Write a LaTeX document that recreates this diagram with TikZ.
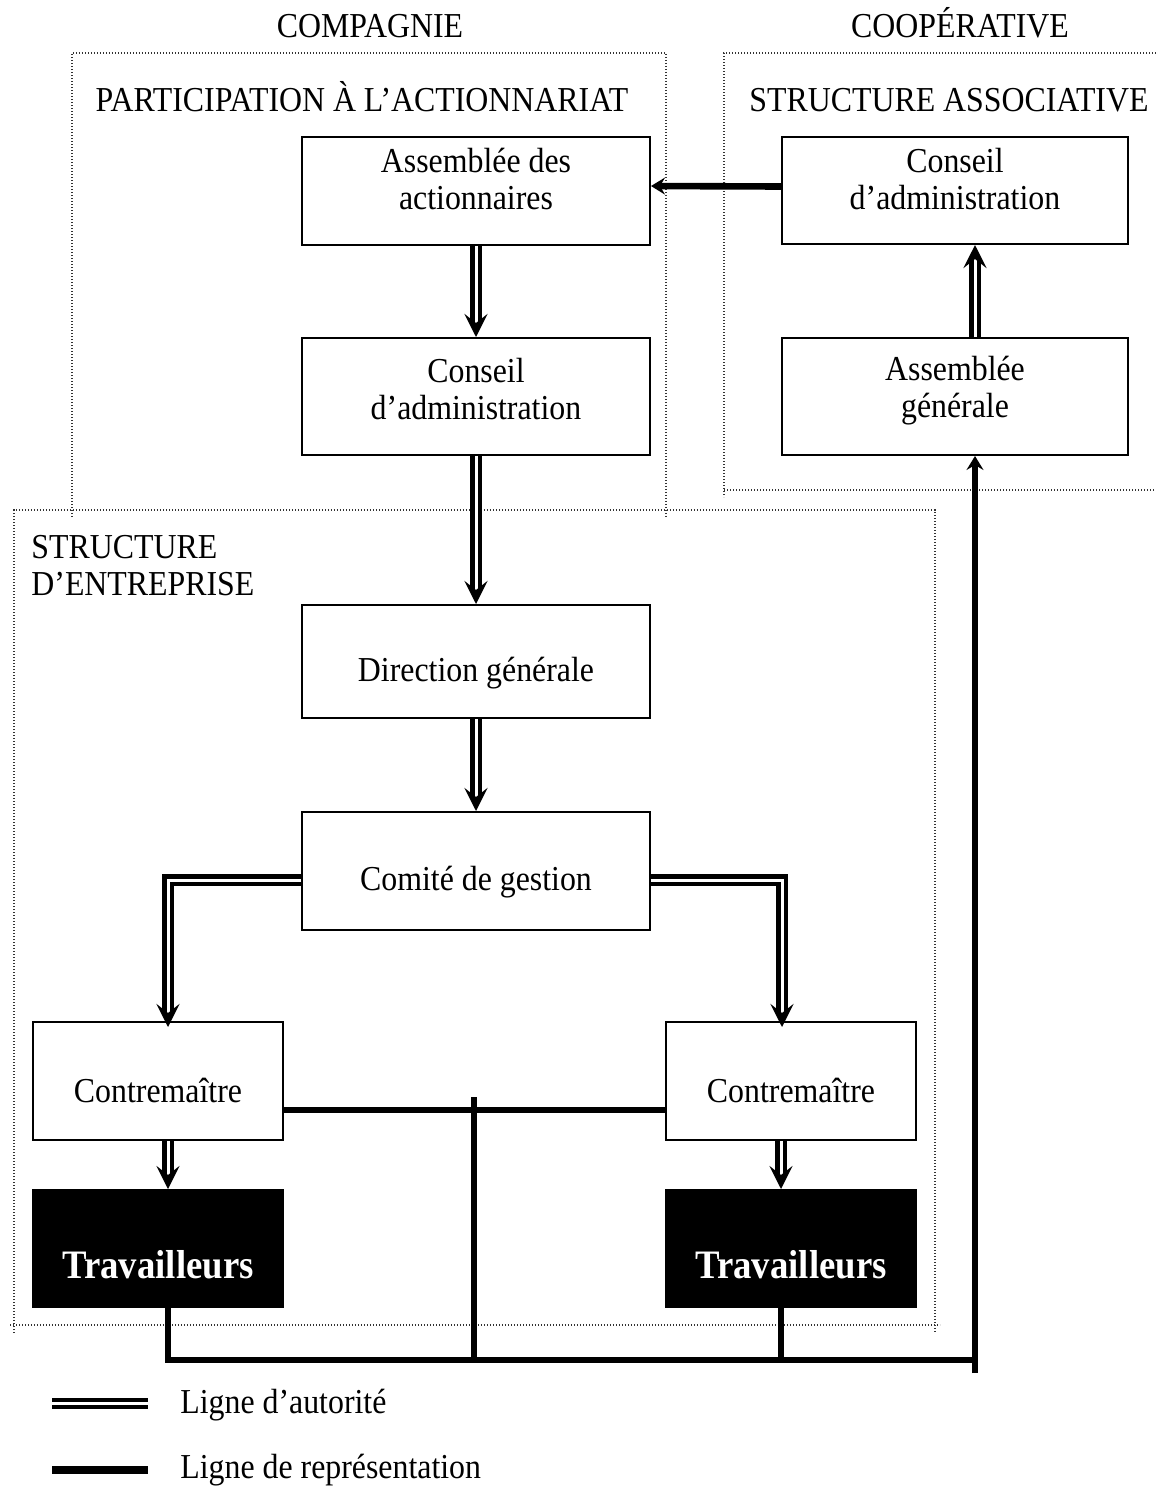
\documentclass[tikz,border=0pt]{standalone}
\usepackage{fontspec}
\setmainfont[FakeStretch=0.91]{Liberation Serif}
\usetikzlibrary{arrows.meta,calc}
\begin{document}
\begin{tikzpicture}[x=0.5pt,y=-0.5pt,
  boxx/.style={draw,line width=1pt,minimum width=174pt,inner sep=0pt,anchor=center},
  smallbox/.style={boxx,minimum width=125pt},
  workbox/.style={smallbox,fill=black},
  txt/.style={inner sep=0pt,align=center,font=\fontsize{17.5pt}{18.5pt}\selectfont},
  worktxt/.style={inner sep=0pt,text=white,font=\fontsize{20.2pt}{22pt}\selectfont\bfseries},
  auth/.style={draw,line width=2.2pt,double=white,double distance=1.5pt,
    -{Stealth[length=11.5pt,width=11.5pt,inset=4.5pt]}},
  authline/.style={draw,line width=2pt,double=white,double distance=1.5pt},
  rep/.style={draw,line width=3.3pt},
  reparrow/.style={rep,-{Stealth[length=7pt,width=8.5pt,inset=2.5pt]}},
  dotline/.style={draw,line width=0.6pt,dash pattern=on 0.6pt off 0.9pt,black!80}]
\useasboundingbox (0,0) rectangle (1156,1496);

% dotted frames
\draw[dotline] (72,517) -- (72,53) -- (666,53) -- (666,517);
\draw[dotline] (1156,53) -- (724,53) -- (724,497);
\draw[dotline] (724,490) -- (1156,490);
\draw[dotline] (14,1333) -- (14,510) -- (935,510) -- (935,1333);
\draw[dotline] (10,1325) -- (940,1325);

% titles
\node[txt,anchor=base] (tcomp) at (370,37) {COMPAGNIE};
\node[txt,anchor=base] (tcoop) at (960,37) {COOPÉRATIVE};
\node[txt,anchor=base] (tpart) at (362,111) {PARTICIPATION À L’ACTIONNARIAT};
\node[txt,anchor=base] (tasso) at (949,111) {STRUCTURE ASSOCIATIVE};
\node[txt,align=left,anchor=west] (tent) at (31,566) {STRUCTURE\\D’ENTREPRISE};

% boxes
\node[boxx,minimum height=54pt] (aa) at (476,191) {};
\node[boxx,minimum height=53.5pt,minimum width=173pt] (ca) at (955,190.5) {};
\node[boxx,minimum height=58.5pt] (cl) at (476,396.5) {};
\node[boxx,minimum height=58.5pt,minimum width=173pt] (ag) at (955,396.5) {};
\node[boxx,minimum height=56.5pt] (dg) at (476,661.5) {};
\node[boxx,minimum height=59pt] (cg) at (476,871) {};
\node[smallbox,minimum height=59pt] (ctl) at (158,1081) {};
\node[smallbox,minimum height=59pt] (ctr) at (791,1081) {};
\node[workbox,minimum height=58.5pt] (twl) at (158,1248.5) {};
\node[workbox,minimum height=58.5pt] (twr) at (791,1248.5) {};

% box texts
\node[txt] (aaT) at (476,179) {Assemblée des\\actionnaires};
\node[txt] (caT) at (955,179) {Conseil\\d’administration};
\node[txt] (clT) at (476,389) {Conseil\\d’administration};
\node[txt] (agT) at (955,391) {Assemblée\\générale};
\node[txt] (dgT) at (476,673) {Direction générale};
\node[txt] (cgT) at (476,882) {Comité de gestion};
\node[txt] (ctlT) at (158,1090) {Contremaître};
\node[txt] (ctrT) at (791,1090) {Contremaître};
\node[worktxt] (twlT) at (158,1265) {Travailleurs};
\node[worktxt] (twrT) at (791,1265) {Travailleurs};

% lines of authority
\draw[auth] (aa) -- (cl);
\draw[auth] (cl) -- (dg);
\draw[auth] (dg) -- (cg);
\draw[auth,shorten >=-3pt] ($(cg.west)+(0,9)$) -| ($(ctl.north)+(10,0)$);
\draw[auth,shorten >=-3pt] ($(cg.east)+(0,9)$) -| ($(ctr.north)+(-9,0)$);
\draw[auth] ($(ctl.south)+(10,0)$) -- ($(twl.north)+(10,0)$);
\draw[auth] ($(ctr.south)+(-10,0)$) -- ($(twr.north)+(-10,0)$);
\draw[auth] ($(ag.north)+(20,0)$) -- ($(ca.south)+(20,0)$);

% lines of representation
\draw[reparrow] ($(ca.west)+(0,-4)$) -- ($(aa.east)+(0,-5)$);
\coordinate (bl) at (975,1360);
\coordinate (blend) at (975,1373);
\coordinate (mid) at (474,1097);
\draw[rep] ($(ctl.east)+(0,29)$) -- ($(ctr.west)+(0,29)$);
\draw[rep] (mid) -- (mid |- bl);
\draw[rep] ($(twl.south)+(10,0)$) |- (bl);
\draw[rep] ($(twr.south)+(-10,0)$) |- (bl);
\draw[reparrow] (blend) -- ($(ag.south)+(20,0)$);

% legend
\coordinate (la1) at (52,1403);
\coordinate (la2) at (148,1403);
\coordinate (lr1) at (52,1470);
\coordinate (lr2) at (148,1470);
\draw[authline] (la1) -- (la2);
\draw[rep,line width=4pt] (lr1) -- (lr2);
\node[txt,anchor=west] (lga) at (180,1405) {Ligne d’autorité};
\node[txt,anchor=west] (lgr) at (180,1470) {Ligne de représentation};
\end{tikzpicture}
\end{document}
